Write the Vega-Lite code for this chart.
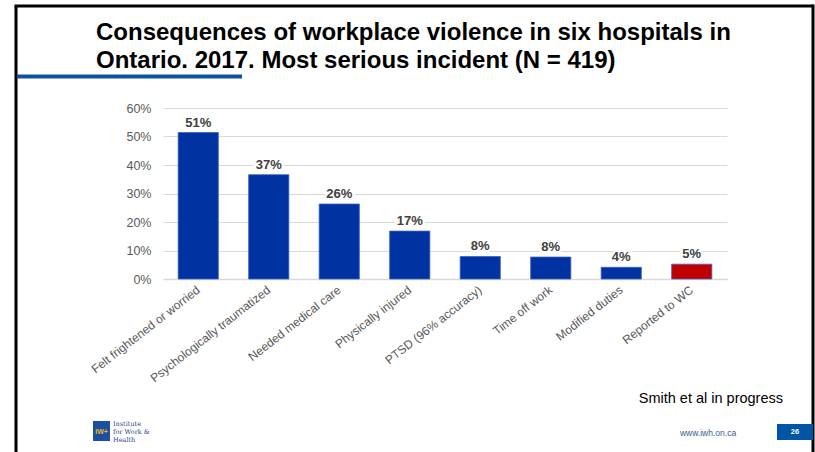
{
  "$schema": "https://vega.github.io/schema/vega-lite/v6.json",
  "width": 564,
  "height": 171,
  "autosize": "none",
  "padding": {"left": 163, "top": 108, "right": 88, "bottom": 173},
  "background": "white",
  "config": {"view": {"stroke": null}, "font": "Liberation Sans"},
  "title": {
    "text": ["Consequences of workplace violence in six hospitals in", "Ontario. 2017. Most serious incident (N = 419)"],
    "anchor": "start",
    "frame": "group",
    "dx": -67,
    "offset": -88.5,
    "baseline": "alphabetic",
    "fontSize": 24,
    "fontWeight": "bold",
    "font": "Liberation Sans",
    "color": "#000000",
    "lineHeight": 28
  },
  "data": {
    "values": [
      {"consequence": "Felt frightened or worried", "share": 0.514, "kind": "Consequence"},
      {"consequence": "Psychologically traumatized", "share": 0.366, "kind": "Consequence"},
      {"consequence": "Needed medical care", "share": 0.263, "kind": "Consequence"},
      {"consequence": "Physically injured", "share": 0.168, "kind": "Consequence"},
      {"consequence": "PTSD (96% accuracy)", "share": 0.079, "kind": "Consequence"},
      {"consequence": "Time off work", "share": 0.077, "kind": "Consequence"},
      {"consequence": "Modified duties", "share": 0.041, "kind": "Consequence"},
      {"consequence": "Reported to WC", "share": 0.052, "kind": "Reporting"}
    ]
  },
  "encoding": {
    "x": {
      "field": "consequence",
      "type": "nominal",
      "sort": null,
      "scale": {"paddingInner": 0.43, "paddingOuter": 0.215},
      "axis": {
        "title": null,
        "labelAngle": -38,
        "labelAlign": "right",
        "labelBaseline": "middle",
        "labelFontSize": 12,
        "labelColor": "#595959",
        "labelPadding": 9,
        "ticks": false,
        "domainColor": "#d9d9d9",
        "domainWidth": 1.5,
        "grid": false
      }
    },
    "y": {
      "field": "share",
      "type": "quantitative",
      "scale": {"domain": [0, 0.6], "nice": false},
      "axis": {
        "title": null,
        "format": ".0%",
        "values": [0, 0.1, 0.2, 0.3, 0.4, 0.5, 0.6],
        "labelFontSize": 12.5,
        "labelColor": "#595959",
        "labelPadding": 12,
        "ticks": false,
        "domain": false,
        "gridColor": "#d9d9d9",
        "gridWidth": 1
      }
    }
  },
  "layer": [
    {
      "mark": {"type": "bar", "stroke": "#3d60c0", "strokeWidth": 0.8},
      "encoding": {
        "color": {
          "field": "kind",
          "type": "nominal",
          "scale": {"domain": ["Consequence", "Reporting"], "range": ["#0033a1", "#c00000"]},
          "legend": null
        }
      }
    },
    {
      "mark": {"type": "text", "dy": -6, "baseline": "alphabetic", "fontSize": 13, "fontWeight": "bold", "stroke": "white", "strokeWidth": 5, "color": "white"},
      "encoding": {"text": {"field": "share", "type": "quantitative", "format": ".0%"}}
    },
    {
      "mark": {"type": "text", "dy": -6, "baseline": "alphabetic", "fontSize": 13, "fontWeight": "bold", "color": "#404040"},
      "encoding": {"text": {"field": "share", "type": "quantitative", "format": ".0%"}}
    },
    {
      "data": {"values": [{"edge": "left"}]},
      "mark": {"type": "rule", "color": "#000000", "strokeWidth": 3},
      "encoding": {"x": {"value": -147}, "y": {"value": -102}, "y2": {"value": 345}}
    },
    {
      "data": {"values": [{"edge": "top"}]},
      "mark": {"type": "rule", "color": "#000000", "strokeWidth": 3},
      "encoding": {"x": {"value": -148.5}, "x2": {"value": 650}, "y": {"value": -102}}
    },
    {
      "data": {"values": [{"edge": "right"}]},
      "mark": {"type": "rule", "color": "#000000", "strokeWidth": 3},
      "encoding": {"x": {"value": 650}, "y": {"value": -103.5}, "y2": {"value": 345}}
    },
    {
      "data": {"values": [{"edge": "underline"}]},
      "mark": {"type": "rule", "color": "#0d52a1", "strokeWidth": 4},
      "encoding": {"x": {"value": -146}, "x2": {"value": 79}, "y": {"value": -31.5}}
    },
    {
      "data": {"values": [{"note": "Smith et al in progress"}]},
      "mark": {"type": "text", "align": "right", "baseline": "alphabetic", "fontSize": 14.5, "color": "#000000"},
      "encoding": {"text": {"field": "note"}, "x": {"value": 620}, "y": {"value": 295}}
    },
    {
      "data": {"values": [{"note": "www.iwh.on.ca"}]},
      "mark": {"type": "text", "align": "center", "baseline": "alphabetic", "fontSize": 8.5, "color": "#3b5b8f"},
      "encoding": {"text": {"field": "note"}, "x": {"value": 545}, "y": {"value": 328}}
    },
    {
      "data": {"values": [{"page": "26"}]},
      "mark": {"type": "rect", "color": "#0055a4"},
      "encoding": {"x": {"value": 614}, "x2": {"value": 650}, "y": {"value": 316}, "y2": {"value": 332}}
    },
    {
      "data": {"values": [{"page": "26"}]},
      "mark": {"type": "text", "align": "center", "baseline": "middle", "fontSize": 7.5, "fontWeight": "bold", "color": "white"},
      "encoding": {"text": {"field": "page"}, "x": {"value": 632}, "y": {"value": 324}}
    },
    {
      "data": {"values": [{"logo": "IWH"}]},
      "mark": {"type": "rect", "color": "#1d4fa0"},
      "encoding": {"x": {"value": -70}, "x2": {"value": -53}, "y": {"value": 313}, "y2": {"value": 333}}
    },
    {
      "data": {"values": [{"logo": "IW+"}]},
      "mark": {"type": "text", "align": "center", "baseline": "middle", "fontSize": 7, "fontWeight": "bold", "color": "#e8b820"},
      "encoding": {"text": {"field": "logo"}, "x": {"value": -61.5}, "y": {"value": 324}}
    },
    {
      "data": {"values": [{"name": "Institute"}]},
      "mark": {"type": "text", "align": "left", "baseline": "alphabetic", "fontSize": 6.5, "font": "DejaVu Serif", "color": "#1f3f8f", "lineHeight": 8},
      "encoding": {"text": {"value": ["Institute", "for Work &", "Health"]}, "x": {"value": -50}, "y": {"value": 318}}
    }
  ]
}
